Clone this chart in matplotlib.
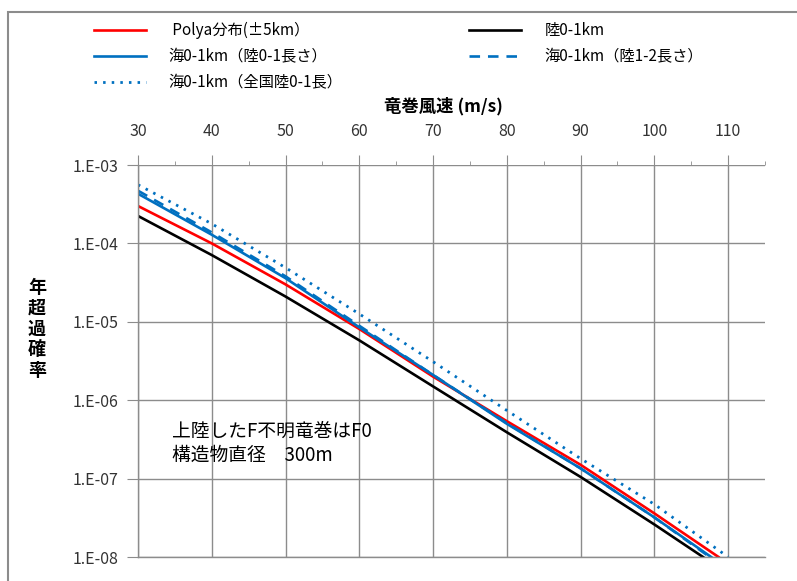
import matplotlib
matplotlib.use("Agg")
import matplotlib.pyplot as plt
from matplotlib.patches import Rectangle
from matplotlib.ticker import FixedLocator, FuncFormatter, NullFormatter
import numpy as np

plt.rcParams['font.family'] = ['Noto Sans CJK JP', 'DejaVu Sans']

# wind speed (m/s) and annual exceedance probability
ws_red = [30, 40, 50, 60, 70, 80, 90, 100, 108.7]
p_red = [3.0e-4, 1.0e-4, 3.0e-5, 8.1e-6, 2.0e-6, 5.4e-7, 1.5e-7, 3.6e-8, 1.0e-8]

ws_black = [30, 40, 50, 60, 70, 80, 90, 100, 106.6]
p_black = [2.24e-4, 7.1e-5, 2.1e-5, 5.8e-6, 1.5e-6, 3.9e-7, 1.05e-7, 2.6e-8, 1.0e-8]

ws_blue = [30, 40, 50, 60, 70, 80, 90, 100, 107.7]
p_blue = [4.3e-4, 1.29e-4, 3.6e-5, 8.5e-6, 2.1e-6, 5.0e-7, 1.35e-7, 3.2e-8, 1.0e-8]

ws_dash = [30, 40, 50, 60, 70, 80, 90, 100, 107.5]
p_dash = [4.7e-4, 1.38e-4, 3.8e-5, 8.9e-6, 2.1e-6, 5.1e-7, 1.35e-7, 3.2e-8, 1.0e-8]

ws_dot = [30, 40, 50, 60, 70, 80, 90, 100, 110]
p_dot = [5.6e-4, 1.78e-4, 4.9e-5, 1.26e-5, 3.1e-6, 7.4e-7, 1.8e-7, 4.7e-8, 1.0e-8]

x_ticks = [30, 40, 50, 60, 70, 80, 90, 100, 110]
y_ticks = [1e-8, 1e-7, 1e-6, 1e-5, 1e-4, 1e-3]

blue = '#0070C0'
grid_c = '#8C8C8C'

fig = plt.figure(figsize=(7.97, 5.81), dpi=100)
ax = fig.add_axes([138/797, 1 - 557/581, 627/797, 392/581])

l1, = ax.plot(ws_red, p_red, color='#FF0000', lw=1.9, label=' Polya分布(±5km）')
l2, = ax.plot(ws_blue, p_blue, color=blue, lw=1.9, label='海0-1km（陸0-1長さ）')
l3, = ax.plot(ws_dot, p_dot, color=blue, lw=2.0, ls=(0, (0.9, 2.2)), label='海0-1km（全国陸0-1長）')
l4, = ax.plot(ws_black, p_black, color='black', lw=1.9, label='陸0-1km')
l5, = ax.plot(ws_dash, p_dash, color=blue, lw=1.9, ls=(0, (4, 3)), label='海0-1km（陸1-2長さ）')

ax.set_yscale('log')
ax.set_xlim(30, 115)
ax.set_ylim(1e-8, 1e-3)

ax.xaxis.tick_top()
ax.xaxis.set_major_locator(FixedLocator(x_ticks))
ax.xaxis.set_minor_locator(FixedLocator([35, 45, 55, 65, 75, 85, 95, 105, 115]))
ax.xaxis.set_minor_formatter(NullFormatter())
ax.yaxis.set_major_locator(FixedLocator(y_ticks))
ax.yaxis.set_minor_locator(FixedLocator([]))
ax.yaxis.set_major_formatter(FuncFormatter(lambda v, p: '1.E-%02d' % round(-np.log10(v))))

ax.tick_params(axis='x', which='major', direction='out', length=7, color=grid_c,
               labelsize=11.5, labelcolor='#333333', pad=11)
ax.tick_params(axis='x', which='minor', direction='out', length=3, color=grid_c)
ax.tick_params(axis='y', which='major', direction='out', length=8, color=grid_c,
               labelsize=11.5, labelcolor='#333333', pad=6)

ax.grid(True, which='major', color=grid_c, lw=1.0)
ax.set_axisbelow(True)
for s in ['top', 'right']:
    ax.spines[s].set_visible(False)
for s in ['left', 'bottom']:
    ax.spines[s].set_color(grid_c)
    ax.spines[s].set_linewidth(1.0)

fig.text(443/797, 1 - 106/581, '竜巻風速 (m/s)', ha='center', va='center',
         fontsize=12.5, fontweight='bold')
fig.text(37/797, 1 - 329/581, '\n'.join('年超過確率'), ha='center', va='center',
         fontsize=13, fontweight='bold', linespacing=1.12)

ax.text(0.054, 0.29, '上陸したF不明竜巻はF0\n構造物直径　300m', transform=ax.transAxes,
        ha='left', va='center', fontsize=13.5, linespacing=1.2)

fig.legend(handles=[l1, l2, l3, l4, l5], loc='upper left', ncol=2,
           bbox_to_anchor=(80/797, 1 - 8/581), frameon=False, fontsize=11,
           handlelength=3.4, handletextpad=1.5, columnspacing=8.3,
           labelspacing=0.6)

fig.add_artist(Rectangle((8/797, -0.1), 1.2, 1.1 - 12/581, transform=fig.transFigure,
                         fill=False, edgecolor='#8C8C8C', lw=1.5))

fig.savefig('out.png', dpi=100)
